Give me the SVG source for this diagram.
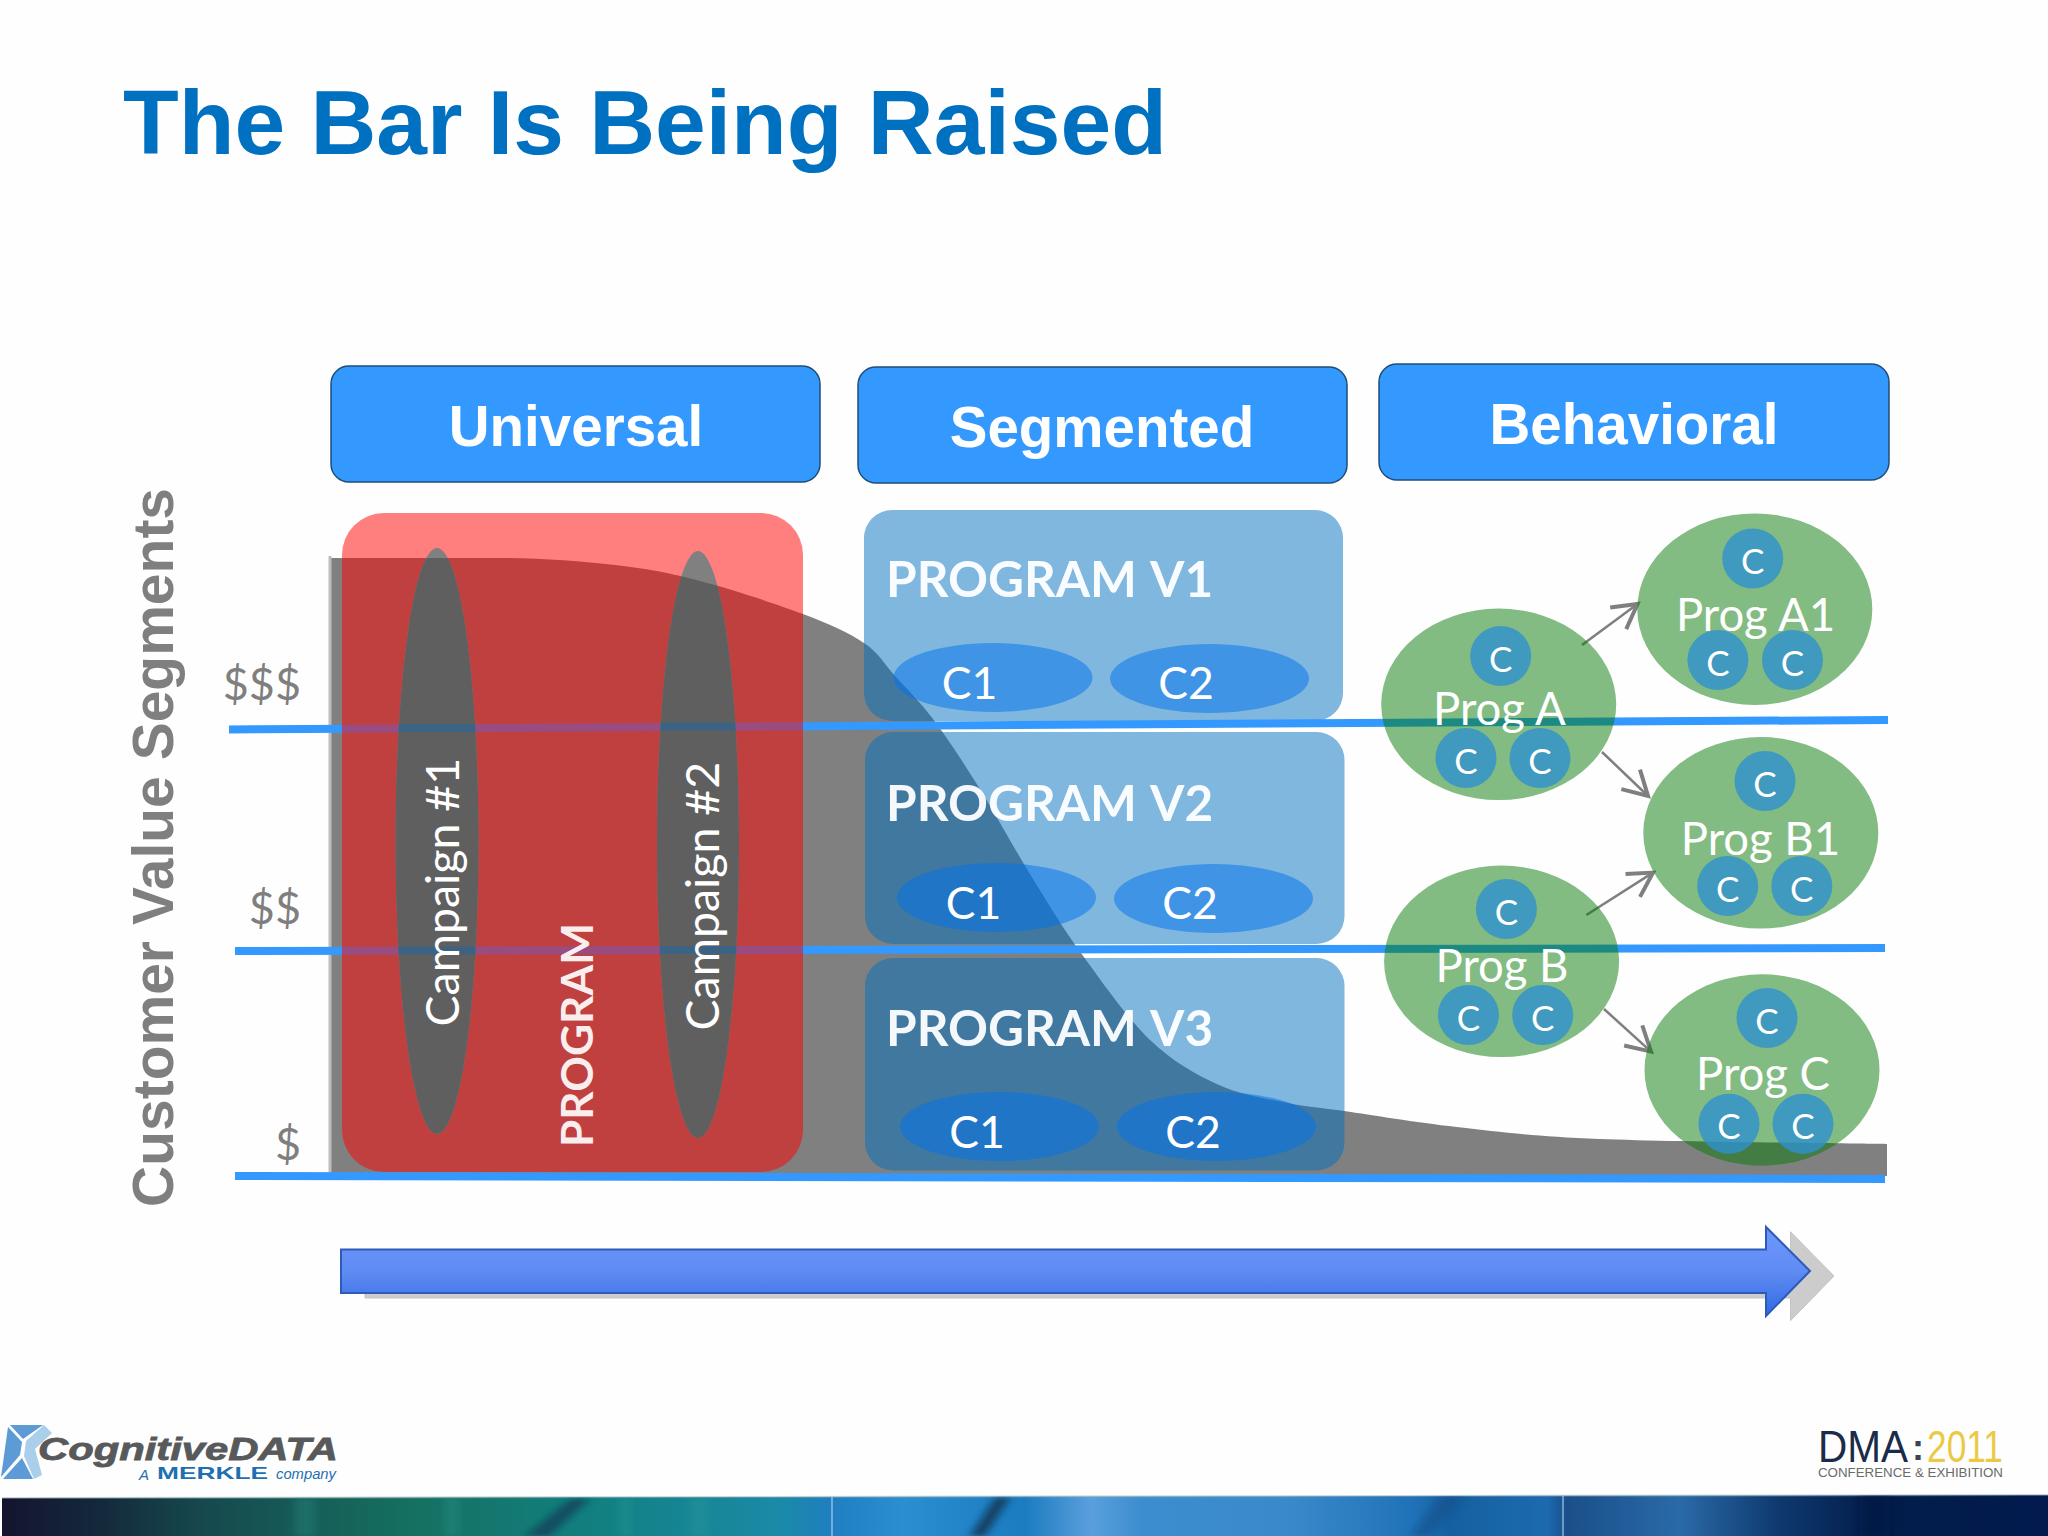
<svg xmlns="http://www.w3.org/2000/svg" width="2048" height="1536" viewBox="0 0 2048 1536">
<style>
.sans{font-family:"Liberation Sans",Arial,sans-serif}
.lato{font-family:Lato,"Open Sans",sans-serif}
.hd{font-family:"Liberation Sans",Arial,sans-serif;font-weight:700;font-size:56.500px;fill:#fff;text-anchor:middle}
.hbox{fill:#3399FF;stroke:#1F4E79;stroke-width:1.5}
.val{font-family:Lato,sans-serif;font-size:45px;fill:#7F7F7F;text-anchor:end}
.pbox{fill:#0070C0;fill-opacity:.5}
.pt{font-family:Lato,sans-serif;font-weight:700;font-size:49.500px;word-spacing:3px;fill:#fff;fill-opacity:.95}
.ce{fill:#0072EC;fill-opacity:.5}
.ct{font-family:Lato,sans-serif;font-size:44.500px;fill:#fff;text-anchor:middle}
.gr{fill:#057A05;fill-opacity:.5}
.c{fill:#2F90CD;fill-opacity:.8}
.cl{font-family:Lato,sans-serif;font-size:35px;fill:#fff;text-anchor:middle}
.gl{font-family:Lato,sans-serif;font-size:45.500px;fill:#fff;text-anchor:middle}
.cam{font-family:Lato,sans-serif;font-size:46.500px;fill:#fff}
.bl{stroke:#3399FF;stroke-width:8;fill:none}
.ar{stroke:#7F7F7F;stroke-width:2.5;fill:none;marker-end:url(#open)}
</style>
<defs>
<marker id="open" markerUnits="userSpaceOnUse" markerWidth="40" markerHeight="40" refX="30" refY="20" orient="auto" overflow="visible">
<path d="M6,6.500 L30,20 L6,33.500" fill="none" stroke="#7F7F7F" stroke-width="4"/>
</marker>
<linearGradient id="shaft" x1="0" y1="0" x2="0" y2="1">
<stop offset="0" stop-color="#6D97FF"/><stop offset=".5" stop-color="#5F8CF2"/><stop offset="1" stop-color="#3069E4"/>
</linearGradient>
<linearGradient id="band" x1="0" y1="0" x2="1" y2="0">
<stop offset="0" stop-color="#14142E"/><stop offset=".05" stop-color="#142A3C"/><stop offset=".1" stop-color="#164A4E"/><stop offset=".2" stop-color="#157060"/><stop offset=".29" stop-color="#128080"/><stop offset=".38" stop-color="#1A8AA8"/><stop offset=".405" stop-color="#1F7FC0"/><stop offset=".44" stop-color="#2A8ED0"/><stop offset=".5" stop-color="#1B7CC0"/><stop offset=".532" stop-color="#5A9FDC"/><stop offset=".557" stop-color="#3C8DCF"/><stop offset=".627" stop-color="#3A8ACB"/><stop offset=".69" stop-color="#2072B8"/><stop offset=".708" stop-color="#15609F"/><stop offset=".755" stop-color="#1C6AB0"/><stop offset=".765" stop-color="#1A4F8A"/><stop offset=".82" stop-color="#2A6AA8"/><stop offset=".867" stop-color="#0F3A70"/><stop offset=".915" stop-color="#021D4A"/><stop offset="1" stop-color="#021A4E"/>
</linearGradient>
<filter id="soft" x="-5%" y="-20%" width="110%" height="140%"><feGaussianBlur stdDeviation="5 2"/></filter>
<filter id="fine" x="-5%" y="-20%" width="110%" height="140%"><feGaussianBlur stdDeviation=".6"/></filter>
<clipPath id="bandclip"><polygon points="2,1498 2048,1495 2048,1536 2,1536"/></clipPath>
<path id="curve" d="M331,558 L500,558 C538,558 581.700,561.200 615,565 C648.300,568.800 668.700,572.800 700,581 C731.300,589.200 775.700,603.700 803,614 C830.300,624.300 848.700,632.700 864,643 C879.300,653.300 883.500,663.300 895,676 C906.500,688.700 919.200,700.700 933,719 C946.800,737.300 961.300,759.300 978,786 C994.700,812.700 1015.800,851.200 1033,879 C1050.200,906.800 1061.500,926.200 1081,953 C1100.500,979.800 1127,1018 1150,1040 C1173,1062 1196,1074.500 1219,1085 C1242,1095.500 1267.200,1098.700 1288,1103 C1308.800,1107.300 1315.800,1107 1344,1111 C1372.200,1115 1414.300,1122.300 1457,1127 C1499.700,1131.700 1528.300,1136.200 1600,1139 C1671.700,1141.800 1839,1143.200 1887,1144 L1887,1176 L331,1176 Z"/>
<clipPath id="cv"><use href="#curve"/></clipPath>
<clipPath id="e1"><ellipse cx="437" cy="841" rx="41.500" ry="293"/></clipPath>
<clipPath id="e2"><ellipse cx="698" cy="844.500" rx="41" ry="293.500"/></clipPath>
</defs>
<rect width="2048" height="1536" fill="#FEFEFE"/>
<text id="title" class="sans" x="123" y="154" font-size="91.200" font-weight="700" fill="#0070C0">The Bar Is Being Raised</text>

<g id="hdr-universal"><rect class="hbox" x="331" y="366" width="489" height="116" rx="18"/><text class="hd" x="576" y="446">Universal</text></g>
<g id="hdr-segmented"><rect class="hbox" x="858" y="367" width="489" height="116" rx="18"/><text class="hd" x="1102" y="447">Segmented</text></g>
<g id="hdr-behavioral"><rect class="hbox" x="1379" y="364" width="510" height="116" rx="18"/><text class="hd" x="1634" y="444">Behavioral</text></g>

<text id="axis-title" class="sans" transform="translate(173,1207) rotate(-90)" font-size="57" font-weight="700" fill="#7F7F7F">Customer Value Segments</text>
<text id="val3" class="val" x="301" y="700">$$$</text>
<text id="val2" class="val" x="301" y="924">$$</text>
<text id="val1" class="val" x="301" y="1160">$</text>

<use id="value-curve" href="#curve" fill="#808080"/>
<rect id="curve-edge" x="328.500" y="556" width="3" height="620" fill="#BDBDBD"/>

<g id="program-v1"><rect class="pbox" x="864" y="510" width="479" height="211" rx="28"/>
<text class="pt" x="886" y="597">PROGRAM V1</text>
<ellipse class="ce" cx="993" cy="677.500" rx="99.500" ry="34.500"/><ellipse class="ce" cx="1209.500" cy="678.500" rx="99.500" ry="34.500"/>
<text class="ct" x="969.500" y="699">C1</text><text class="ct" x="1186" y="699">C2</text></g>
<g id="program-v2"><rect class="pbox" x="865" y="732" width="479.500" height="212" rx="28"/>
<text class="pt" x="886" y="820.500">PROGRAM V2</text>
<ellipse class="ce" cx="996.500" cy="897.500" rx="99.500" ry="34.500"/><ellipse class="ce" cx="1213.500" cy="898.500" rx="99.500" ry="34.500"/>
<text class="ct" x="973.500" y="919">C1</text><text class="ct" x="1190" y="919">C2</text></g>
<g id="program-v3"><rect class="pbox" x="865" y="958" width="479.500" height="212.500" rx="28"/>
<text class="pt" x="886" y="1046">PROGRAM V3</text>
<ellipse class="ce" cx="999.500" cy="1126.500" rx="99.500" ry="34.500"/><ellipse class="ce" cx="1216.500" cy="1126.500" rx="99.500" ry="34.500"/>
<text class="ct" x="977" y="1148">C1</text><text class="ct" x="1193" y="1148">C2</text></g>

<g id="value-lines">
<line class="bl" x1="229" y1="729.500" x2="1888" y2="720"/>
<line class="bl" x1="235" y1="951" x2="1885" y2="948"/>
<line class="bl" x1="235" y1="1176" x2="1885" y2="1179"/>
</g>

<g id="program"><rect x="342" y="513" width="461" height="659" rx="42" fill="#FF0000" fill-opacity=".5"/>
<text transform="translate(592.500,1147) rotate(-90)" class="lato" font-size="44.200" font-weight="700" fill="#fff" fill-opacity=".92">PROGRAM</text></g>

<g id="campaign-1">
<ellipse cx="437" cy="841" rx="41.500" ry="293" fill="#808080"/>
<g clip-path="url(#cv)"><ellipse cx="437" cy="841" rx="41.500" ry="293" fill="#5F5F5F"/></g>
<g clip-path="url(#e1)"><line x1="380" y1="728" x2="490" y2="728" stroke="#3D6384" stroke-width="8"/><line x1="380" y1="950.500" x2="490" y2="950.500" stroke="#3D6384" stroke-width="8"/></g>
<text class="cam" transform="translate(459,1026.500) rotate(-90)">Campaign #1</text></g>
<g id="campaign-2">
<ellipse cx="698" cy="844.500" rx="41" ry="293.500" fill="#808080"/>
<g clip-path="url(#cv)"><ellipse cx="698" cy="844.500" rx="41" ry="293.500" fill="#5F5F5F"/></g>
<g clip-path="url(#e2)"><line x1="640" y1="726.500" x2="750" y2="726.500" stroke="#3D6384" stroke-width="8"/><line x1="640" y1="950" x2="750" y2="950" stroke="#3D6384" stroke-width="8"/></g>
<text class="cam" transform="translate(719,1030.500) rotate(-90)">Campaign #2</text></g>

<g id="connectors">
<line class="ar" x1="1582" y1="645" x2="1637.500" y2="604"/>
<line class="ar" x1="1602" y1="752" x2="1648" y2="796"/>
<line class="ar" x1="1586.400" y1="915" x2="1653" y2="872.600"/>
<line class="ar" x1="1604" y1="1009" x2="1651" y2="1051.600"/>
</g>

<g id="prog-a"><ellipse class="gr" cx="1498.700" cy="704.300" rx="117.500" ry="95.700"/>
<ellipse class="c" cx="1500.700" cy="656" rx="30.500" ry="30"/><ellipse class="c" cx="1466" cy="758" rx="30.500" ry="30"/><ellipse class="c" cx="1540" cy="758" rx="30.500" ry="30"/>
<text class="cl" x="1500.700" y="671.500">C</text><text class="cl" x="1466" y="773.500">C</text><text class="cl" x="1540" y="773.500">C</text>
<text class="gl" x="1499.500" y="725">Prog A</text></g>
<g id="prog-a1"><ellipse class="gr" cx="1754.800" cy="609.200" rx="117.500" ry="95.700"/>
<ellipse class="c" cx="1752.700" cy="558.500" rx="30.500" ry="30"/><ellipse class="c" cx="1717.900" cy="660" rx="30.500" ry="30"/><ellipse class="c" cx="1792.500" cy="660" rx="30.500" ry="30"/>
<text class="cl" x="1752.700" y="574">C</text><text class="cl" x="1717.900" y="675.500">C</text><text class="cl" x="1792.500" y="675.500">C</text>
<text class="gl" x="1755.500" y="631">Prog A1</text></g>
<g id="prog-b1"><ellipse class="gr" cx="1760.800" cy="832.800" rx="117.500" ry="95.700"/>
<ellipse class="c" cx="1765" cy="781" rx="30.500" ry="30"/><ellipse class="c" cx="1727.700" cy="886" rx="30.500" ry="30"/><ellipse class="c" cx="1801.800" cy="886" rx="30.500" ry="30"/>
<text class="cl" x="1765" y="796.500">C</text><text class="cl" x="1727.700" y="901.500">C</text><text class="cl" x="1801.800" y="901.500">C</text>
<text class="gl" x="1760.500" y="854.500">Prog B1</text></g>
<g id="prog-b"><ellipse class="gr" cx="1501.600" cy="961.300" rx="117.500" ry="95.700"/>
<ellipse class="c" cx="1506.400" cy="909" rx="30.500" ry="30"/><ellipse class="c" cx="1468.400" cy="1015" rx="30.500" ry="30"/><ellipse class="c" cx="1542.700" cy="1015" rx="30.500" ry="30"/>
<text class="cl" x="1506.400" y="924.500">C</text><text class="cl" x="1468.400" y="1030.500">C</text><text class="cl" x="1542.700" y="1030.500">C</text>
<text class="gl" x="1502" y="982">Prog B</text></g>
<g id="prog-c"><ellipse class="gr" cx="1762" cy="1070" rx="117.500" ry="95.700"/>
<ellipse class="c" cx="1767" cy="1018" rx="30.500" ry="30"/><ellipse class="c" cx="1729" cy="1123.700" rx="30.500" ry="30"/><ellipse class="c" cx="1803" cy="1123.700" rx="30.500" ry="30"/>
<text class="cl" x="1767" y="1033.500">C</text><text class="cl" x="1729" y="1139">C</text><text class="cl" x="1803" y="1139">C</text>
<text class="gl" x="1763" y="1090">Prog C</text></g>

<g id="big-arrow">
<path d="M365,1254 H1790.500 V1231.700 L1834,1276 L1790.500,1320.700 V1298 H365 Z" fill="#CCCCCC" stroke="#C4C4C8" stroke-width="1"/>
<path d="M341,1249.500 H1766 V1227 L1810,1271 L1766,1316 V1293 H341 Z" fill="url(#shaft)" stroke="#2F5BB7" stroke-width="2"/>
</g>

<g id="logo-cognitive">
<g filter="url(#fine)">
<polygon points="10,1425 43,1425 23,1439" fill="#5B9BD5"/>
<polygon points="8,1427 22,1442 20,1455 1,1477" fill="#5B9BD5"/>
<polygon points="3,1479 22,1458 33,1479" fill="#5B9BD5"/>
<polygon points="44,1425 52,1433 35,1449 42,1475 34,1479 24,1456 26,1441" fill="#A9CFEA"/>
</g>
<text class="sans" x="38" y="1460" font-size="31" font-weight="700" font-style="italic" fill="#58595B" stroke="#58595B" stroke-width=".8" textLength="300" lengthAdjust="spacingAndGlyphs">CognitiveDATA</text>
<text class="sans" x="139" y="1480" font-size="15" font-style="italic" fill="#1F70B0">A</text>
<text class="sans" x="157" y="1479" font-size="17" font-weight="700" fill="#1F70B0" textLength="111" lengthAdjust="spacingAndGlyphs">MERKLE</text>
<text class="sans" x="276" y="1479" font-size="15" font-style="italic" fill="#1F70B0" textLength="60" lengthAdjust="spacingAndGlyphs">company</text>
</g>
<g id="logo-dma">
<text class="sans" x="1818" y="1462" font-size="45" fill="#1C2B4A" textLength="90" lengthAdjust="spacingAndGlyphs">DMA</text>
<text class="sans" x="1912" y="1460" font-size="36" font-weight="700" fill="#3A4358">:</text>
<text class="sans" x="1927" y="1462" font-size="45" fill="#EBC944" textLength="76" lengthAdjust="spacingAndGlyphs">2011</text>
<text class="sans" x="1818" y="1477" font-size="13.500" fill="#6A6A6A" textLength="185" lengthAdjust="spacingAndGlyphs">CONFERENCE &amp; EXHIBITION</text>
</g>
<g id="band">
<polygon points="2,1498 2048,1495 2048,1536 2,1536" fill="url(#band)"/>
<polygon points="2,1497 2048,1494 2048,1496 2,1499" fill="#8FA8B0" fill-opacity=".45"/>
<g clip-path="url(#bandclip)"><g filter="url(#soft)">
<polygon points="570,1499 590,1499 550,1536 525,1536" fill="#123A5A" fill-opacity=".7"/>
<polygon points="995,1498 1010,1498 985,1536 970,1536" fill="#0F2F4A" fill-opacity=".8"/>
<polygon points="1440,1497 1465,1497 1430,1536 1410,1536" fill="#0F4F8A" fill-opacity=".6"/>
<rect x="1860" y="1495" width="30" height="41" fill="#011840" fill-opacity=".5"/>
<g fill="#2FA59A" fill-opacity=".25"><rect x="295" y="1498" width="20" height="38"/><rect x="445" y="1498" width="14" height="38"/><rect x="620" y="1498" width="12" height="38"/><rect x="690" y="1498" width="18" height="38"/></g>
</g></g>
<line x1="832" y1="1497" x2="832" y2="1536" stroke="#BFD9EE" stroke-opacity=".7" stroke-width="1.500"/>
<line x1="1563" y1="1496" x2="1563" y2="1536" stroke="#BFD9EE" stroke-opacity=".7" stroke-width="1.500"/>
</g>
</svg>
